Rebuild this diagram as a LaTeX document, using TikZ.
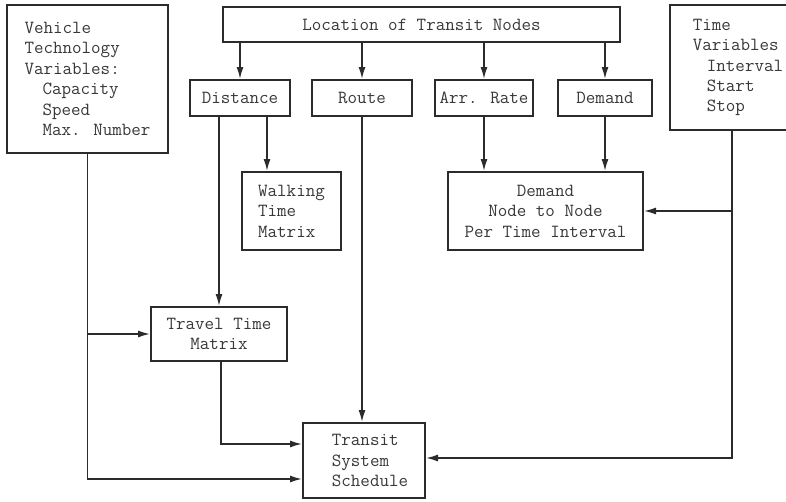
\documentclass[tikz,border=0pt]{standalone}
\usetikzlibrary{arrows.meta}
\definecolor{ink}{HTML}{2B2B2B}
\definecolor{txt}{HTML}{383838}
\begin{document}
\begin{tikzpicture}[x=1pt,y=-1pt,
  box/.style={draw=ink, line width=2pt, inner sep=0pt, text=txt,
    font=\ttfamily\fontsize{18.5}{20.4}\selectfont},
  arr/.style={draw=ink, line width=1.6pt, -{Latex[length=12pt,width=7pt]}}]
\useasboundingbox[fill=white] (0,0) rectangle (786,501);
\node[box, align=left, minimum width=161pt, minimum height=148pt] (veh) at (87.5,79)
  {Vehicle\\Technology\\Variables:\\\hspace*{18pt}Capacity\\\hspace*{18pt}Speed\\\hspace*{18pt}Max. Number};
\node[box, align=left, minimum width=136pt, minimum height=125pt] (time) at (738,67.5)
  {Time\\Variables\\\hspace*{14pt}Interval\\\hspace*{14pt}Start\\\hspace*{14pt}Stop};
\node[box, minimum width=397pt, minimum height=35pt] (loc) at (421.5,24.5) {Location of Transit Nodes};
\node[box, minimum width=100pt, minimum height=36pt] (dist) at (240,98) {Distance};
\node[box, minimum width=100pt, minimum height=36pt] (route) at (362,98) {Route};
\node[box, minimum width=98pt, minimum height=36pt] (arate) at (484,98) {Arr. Rate};
\node[box, minimum width=94pt, minimum height=36pt] (dem) at (605,98) {Demand};
\node[box, align=left, minimum width=99pt, minimum height=78pt] (walk) at (291.5,211) {Walking\\Time\\Matrix};
\node[box, align=center, minimum width=195pt, minimum height=78pt] (dn) at (545.5,211) {Demand\\Node to Node\\Per Time Interval};
\node[box, align=center, minimum width=136pt, minimum height=54pt] (travel) at (219,334) {Travel Time\\Matrix};
\node[box, align=left, minimum width=122pt, minimum height=75pt] (transit) at (364,460.5)
  {\hspace*{12pt}Transit\\\hspace*{12pt}System\\\hspace*{12pt}Schedule};
% from location
\draw[arr] (loc.south -| dist.north) -- (dist.north);
\draw[arr] (loc.south -| route.north) -- (route.north);
\draw[arr] (loc.south -| arate.north) -- (arate.north);
\draw[arr] (loc.south -| dem.north) -- (dem.north);
% distance
\draw[arr] (dist.south -| travel.north) -- (travel.north);
\draw[arr] ([xshift=27pt]dist.south) -- ([xshift=27pt]dist.south |- walk.north);
% demand node
\draw[arr] (arate.south) -- (arate.south |- dn.north);
\draw[arr] (dem.south) -- (dem.south |- dn.north);
% route
\draw[arr] (route.south) -- (route.south |- transit.north);
% vehicle
\draw[arr] (veh.south) |- ([yshift=-18.5pt]transit.west);
\draw[arr] (veh.south |- travel.west) -- (travel.west);
% travel
\draw[arr] ([xshift=2pt]travel.south) |- ([yshift=16.5pt]transit.west);
% time
\draw[arr] ([xshift=-6pt]time.south) |- ([yshift=2.5pt]transit.east);
\draw[arr] ([xshift=-6pt]time.south |- dn.east) -- (dn.east);
\end{tikzpicture}
\end{document}
